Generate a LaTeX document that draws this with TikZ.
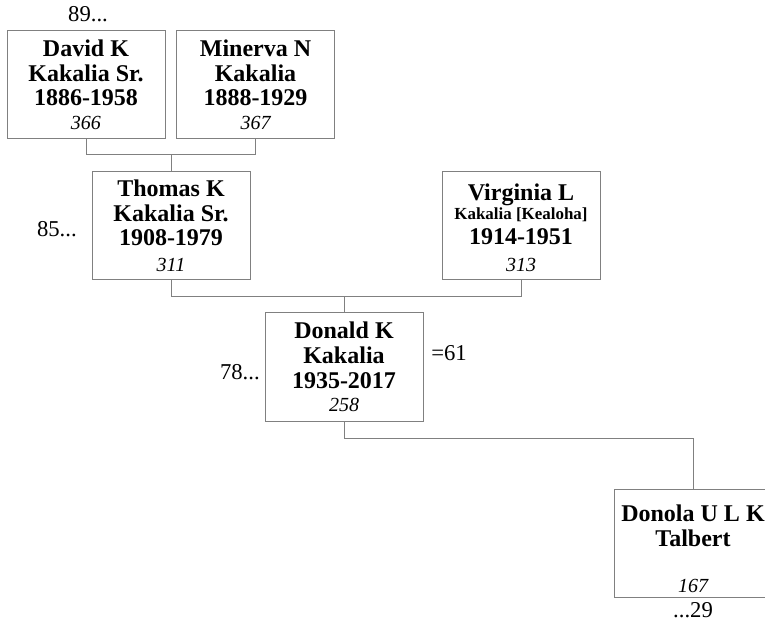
\documentclass[tikz,border=0pt]{standalone}
\usepackage{fontspec}
\setmainfont{Liberation Serif}
\newcommand\idnum[1]{{\fontsize{15}{15}\selectfont\mdseries\itshape #1}}
\begin{document}
\begin{tikzpicture}[x=0.75pt,y=-0.75pt,
  person/.style={draw=black!50, line width=0.75pt, fill=white, minimum width=118.5pt, minimum height=81pt, inner sep=0pt, align=center, font=\fontsize{18}{18.5}\selectfont\bfseries},
  ptext/.style={inner sep=0pt, align=center, font=\fontsize{18}{18.5}\selectfont\bfseries},
  conn/.style={draw=black!50, line width=0.75pt},
  lbl/.style={inner sep=0pt, font=\fontsize{17}{17}\selectfont}]
\useasboundingbox (0,0) rectangle (765,624);
\node[person] (david) at (86,84.5) {David K\\Kakalia Sr.\\1886-1958\\[-1pt]\idnum{366}};
\node[person] (minerva) at (255.5,84.5) {Minerva N\\Kakalia\\1888-1929\\[-1pt]\idnum{367}};
\node[person] (thomas) at (171,226) {Thomas K\\Kakalia Sr.\\1908-1979\\[1pt]\idnum{311}};
\node[person] (virginia) at (521,226) {};
\node[ptext] (virginiatext) at (521,227.5) {Virginia L\\[-4pt]{\fontsize{12.7}{14}\selectfont Kakalia [Kealoha]}\\1914-1951\\[2pt]\idnum{313}};
\node[person] (donald) at (344,367) {Donald K\\Kakalia\\1935-2017\\[-1pt]\idnum{258}};
\node[person] (donola) at (693,543.5) {};
\node[ptext] (donolatext) at (693,549) {Donola U L K\\Talbert\\[16pt]\idnum{167}};
% labels
\node[lbl] (l89) at (88,14) {89...};
\node[lbl, anchor=east] (l85) at (77,229) {85...};
\node[lbl, anchor=east] (l78) at (260,372) {78...};
\node[lbl, anchor=west] (l61) at (431,353) {=61};
\node[lbl] (l29) at (693,610) {...29};
% connectors
\coordinate (b1) at (171,155);
\draw[conn] (david.south) -- (david.south |- b1) -- (minerva.south |- b1) -- (minerva.south);
\draw[conn] (thomas.north |- b1) -- (thomas.north);
\coordinate (b2) at (346,297);
\draw[conn] (thomas.south) -- (thomas.south |- b2) -- (virginia.south |- b2) -- (virginia.south);
\draw[conn] (donald.north |- b2) -- (donald.north);
\coordinate (b3) at (346,438);
\draw[conn] (donald.south) -- (donald.south |- b3) -- (donola.north |- b3) -- (donola.north);
\end{tikzpicture}
\end{document}
